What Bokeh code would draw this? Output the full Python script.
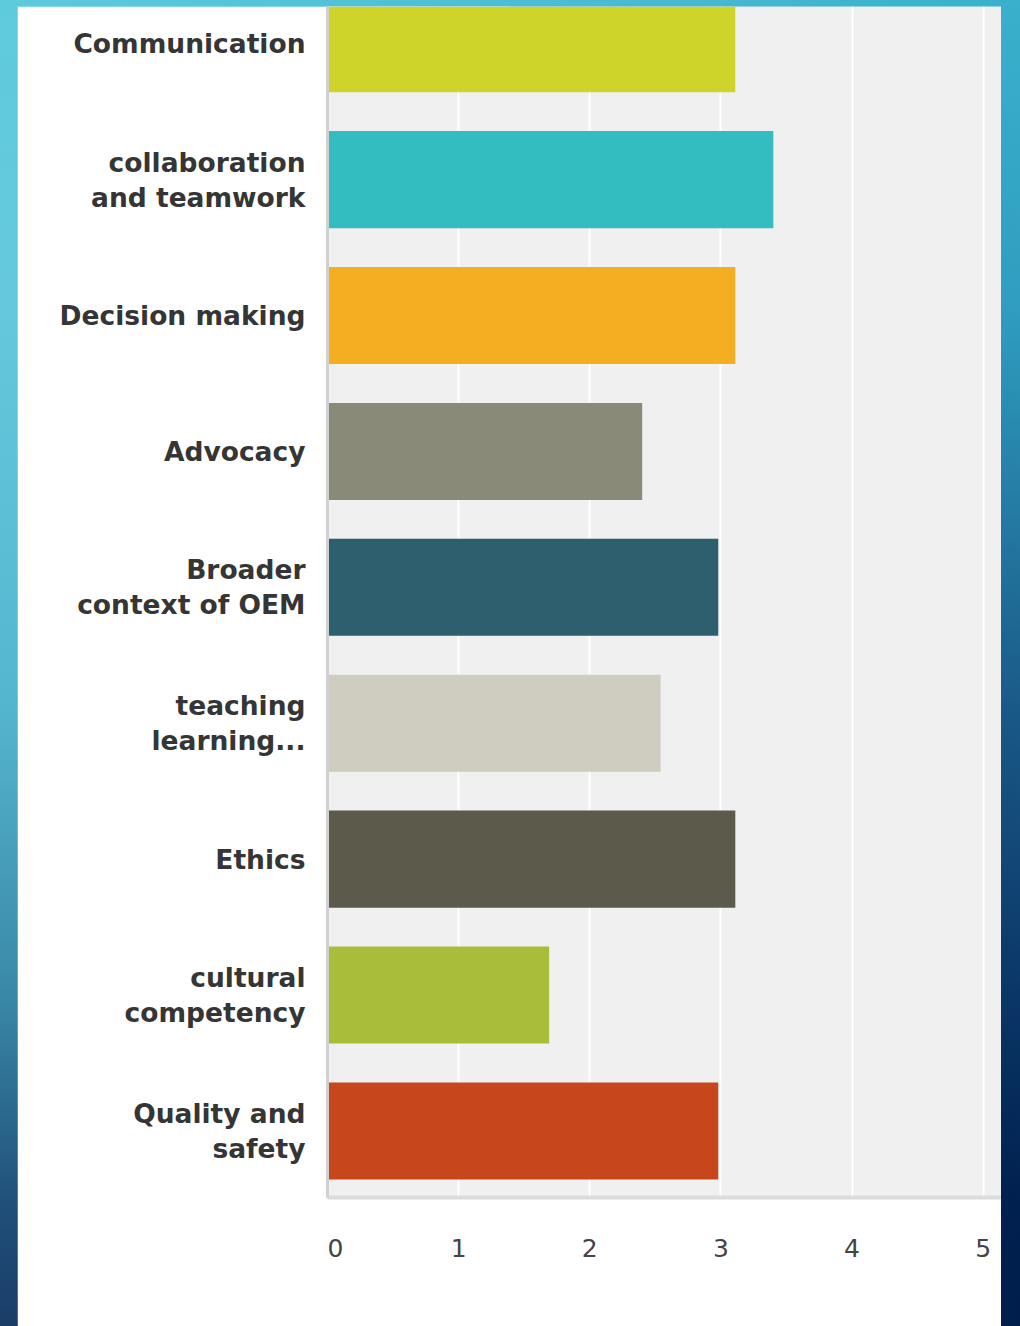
from bokeh.plotting import figure
from bokeh.models import FixedTicker, Range1d, ColumnDataSource
from bokeh.layouts import column
from bokeh.embed import file_html
from bokeh.resources import INLINE

categories = ["Communication", "collaboration\nand teamwork", "Decision making", "Advocacy",
              "Broader\ncontext of OEM", "teaching\nlearning...", "Ethics",
              "cultural\ncompetency", "Quality and\nsafety"]
values = [3.11, 3.40, 3.11, 2.40, 2.98, 2.54, 3.11, 1.69, 2.98]
colors = ["#cfd42a", "#33bdc0", "#f5ae21", "#8a8a78", "#2e5f6e",
          "#cfcdbf", "#5b5a4b", "#a9bd3a", "#c8461b"]
x_ticks = [0, 1, 2, 3, 4, 5]

n = len(categories)
ypos = [n - 1 - i for i in range(n)]

src = ColumnDataSource(dict(y=ypos, v=values, c=colors))

p = figure(width=984, height=1320, output_backend="svg", toolbar_location=None,
           x_range=Range1d(0, 5.14), y_range=Range1d(-0.49, 8.274),
           min_border_left=310, min_border_right=0, min_border_top=0, min_border_bottom=129)
p.margin = (6, 19, 0, 17)
p.background_fill_color = "#f0f0f0"
p.border_fill_color = "white"
p.outline_line_color = None

p.hbar(y="y", right="v", left=0, height=0.714, fill_color="c", line_color=None, source=src)

p.xgrid.grid_line_color = "white"
p.xgrid.grid_line_width = 2
p.xgrid.ticker = FixedTicker(ticks=x_ticks)
p.ygrid.grid_line_color = None

p.xaxis.ticker = FixedTicker(ticks=x_ticks)
p.xaxis.major_label_overrides = {0: "\u00a0\u00a00"}
p.xaxis.major_tick_line_color = None
p.xaxis.minor_tick_line_color = None
p.xaxis.axis_line_color = "#dcdcdc"
p.xaxis.axis_line_width = 4
p.xaxis.major_label_text_font = "DejaVu Sans"
p.xaxis.major_label_text_font_size = "25px"
p.xaxis.major_label_text_color = "#444444"
p.xaxis.major_label_standoff = 30

p.yaxis.ticker = FixedTicker(ticks=ypos)
p.yaxis.major_label_overrides = {y: c for y, c in zip(ypos, categories)}
p.yaxis.major_tick_line_color = None
p.yaxis.minor_tick_line_color = None
p.yaxis.axis_line_color = "#d0d0d0"
p.yaxis.axis_line_width = 3
p.yaxis.major_label_text_font = "DejaVu Sans"
p.yaxis.major_label_text_font_style = "bold"
p.yaxis.major_label_text_font_size = "26.5px"
p.yaxis.major_label_text_color = "#353535"
p.yaxis.major_label_text_line_height = 1.13
p.yaxis.major_label_text_align = "right"
p.yaxis.major_label_standoff = 16

bg = ("linear-gradient(to right, #5ecbdc, #3ab0cc) top / 100% 6px no-repeat, "
      "linear-gradient(to bottom, #5ecbdc 0%, #66c8dc 23%, #55b6d0 53%, #3a88a8 75%, #1f4f7a 91%, #1a3d68 100%) left / 510px 100% no-repeat, "
      "linear-gradient(to bottom, #3ab0cc 0%, #2f9ec0 23%, #1a5a88 53%, #0a3666 75%, #00204f 91%, #001e4c 100%) right / 510px 100% no-repeat")

layout = column(p, width=1020, height=1326, margin=0, styles={"background": bg})

open("out.html", "w").write(file_html(layout, INLINE))
